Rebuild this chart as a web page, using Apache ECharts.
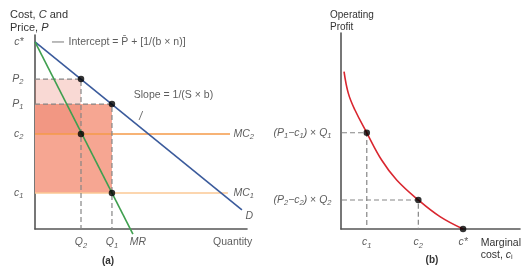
<!DOCTYPE html>
<html>
<head>
<meta charset="utf-8">
<script src="https://cdn.jsdelivr.net/npm/echarts@6/dist/echarts.min.js"></script>
<style>
  html, body { margin: 0; padding: 0; background: #fff; }
  #main { width: 522px; height: 269px; }
</style>
</head>
<body>
<div id="main"></div>
<script>
// panel (a): price vs quantity, arbitrary units 0-100 on both axes
const priceNames = ['c*', 'P2', 'P1', 'c2', 'c1'];
const priceValues = [96.4, 77.3, 64.4, 49.0, 18.6];
const qtyNames = ['Q2', 'Q1'];
const qtyValues = [21.7, 36.3];
const demandPts = [[0, 96.4], [97.6, 9.8]];
const mrPts = [[0, 96.4], [46.2, -2.6]];
const mcEnd = [92, 91]; // MC2, MC1 stop here

// panel (b): operating profit vs marginal cost
const costNames = ['c1', 'c2', 'c*'];
const costValues = [14.4, 43.2, 68.2];
const profitNames = ['(P1−c1) × Q1', '(P2−c2) × Q2'];
const profitValues = [49.1, 14.8];
const profitCurve = [[1.7, 80.3], [4.1, 69.2], [7.8, 60.7], [14.4, 49.1], [22.7, 35.2],
  [31.1, 25.0], [43.2, 14.8], [55.3, 6.3], [68.2, 0]];

const cStar = priceValues[0], P2 = priceValues[1], P1 = priceValues[2];
const c2 = priceValues[3], c1 = priceValues[4];
const Q2 = qtyValues[0], Q1 = qtyValues[1];

const FONT = 'Liberation Sans, Arial, DejaVu Sans, sans-serif';
const TXT = '#333';
const DASH = { color: '#858585', width: 1.2, type: [5, 3] };

// letters italic, trailing digits as small subscripts
function math(s) {
  return s.replace(/([A-Za-z]+)(\d?)/g, (m, a, d) => '{i|' + a + '}' + (d ? '{s|' + d + '}' : ''));
}
const RICH = {
  i: { fontStyle: 'italic', fontSize: 10.5, fontFamily: FONT, color: TXT, lineHeight: 14, verticalAlign: 'middle' },
  s: { fontStyle: 'italic', fontSize: 7.5, fontFamily: FONT, color: TXT, lineHeight: 14, verticalAlign: 'bottom' },
  n: { fontStyle: 'normal', fontSize: 10.5, fontFamily: FONT, color: TXT, lineHeight: 14, verticalAlign: 'middle' }
};

function lbl(x, y, text, pos, dist, extra) {
  return {
    value: [x, y],
    label: Object.assign({ show: true, formatter: text, position: pos, distance: dist }, extra || {})
  };
}

function labelSeries(g, items) {
  return {
    type: 'scatter', xAxisIndex: g, yAxisIndex: g, silent: true, z: 10,
    symbolSize: 1, itemStyle: { color: 'rgba(0,0,0,0)' },
    label: { fontFamily: FONT, fontSize: 10.5, color: TXT, fontStyle: 'italic', rich: RICH },
    data: items
  };
}

function seg(g, pts, style, extra) {
  return Object.assign({
    type: 'line', xAxisIndex: g, yAxisIndex: g, data: pts, symbol: 'none',
    silent: true, clip: false, lineStyle: style, z: 3
  }, extra || {});
}

function axisCommon(g, max) {
  return {
    type: 'value', gridIndex: g, min: 0, max: max,
    axisLine: { show: true, onZero: false, lineStyle: { color: '#555', width: 1.6 } },
    axisTick: { show: false }, axisLabel: { show: false }, splitLine: { show: false }
  };
}

// label items
const aLabels = [];
priceNames.forEach((n, i) => aLabels.push(lbl(0, priceValues[i], math(n), 'left', 11)));
qtyNames.forEach((n, i) => aLabels.push(lbl(qtyValues[i], 0, math(n), 'bottom', 6)));
aLabels.push(lbl(mrPts[1][0], 0, math('MR'), 'bottom', 6, { offset: [5, 0] }));
aLabels.push(lbl(93.2, 0, '{n|Quantity}', 'bottom', 6));
aLabels.push(lbl(mcEnd[0], c2, math('MC2'), 'right', 3));
aLabels.push(lbl(mcEnd[1], c1, math('MC1'), 'right', 5));
aLabels.push(lbl(demandPts[1][0], demandPts[1][1], math('D'), 'right', 3, { offset: [0, 6] }));
aLabels.push(lbl(13.7, cStar, 'Intercept = P̄ + [1/(b × n)]', 'right', 4,
  { fontStyle: 'normal', fontSize: 10.5 }));
aLabels.push(lbl(65.3, 69.1, 'Slope = 1/(S × b)', 'inside', 0, { fontStyle: 'normal' }));

const bLabels = [];
profitNames.forEach((n, i) => bLabels.push(lbl(0, profitValues[i],
  math(n).replace('−', '{n|−}').replace('×', '{n| × }').replace(') ', ')').replace(/\}\s+\{/g, '}{'),
  'left', 9)));
costNames.forEach((n, i) => bLabels.push(lbl(costValues[i], 0, math(n), 'bottom', 6)));

const chart = echarts.init(document.getElementById('main'));
chart.setOption({
  animation: false,
  backgroundColor: '#fff',
  grid: [
    { left: 35, top: 35, width: 212, height: 194, containLabel: false },
    { left: 341, top: 33, width: 179, height: 196, containLabel: false }
  ],
  xAxis: [axisCommon(0, 100), axisCommon(1, 100)],
  yAxis: [axisCommon(0, 100), axisCommon(1, 100)],
  graphic: [
    { type: 'text', left: 10, top: 8, style: {
      text: 'Cost, {i|C} and\nPrice, {i|P}', font: '11px ' + FONT, fill: TXT, lineHeight: 13,
      rich: { i: { fontStyle: 'italic', fontSize: 11, fontFamily: FONT, fill: TXT } } } },
    { type: 'text', left: 330, top: 9, style: {
      text: 'Operating\nProfit', font: '10px ' + FONT, fill: TXT, lineHeight: 12 } },
    { type: 'text', right: 1, top: 237, style: {
      text: 'Marginal\ncost, {i|c}ᵢ', font: '10.5px ' + FONT, fill: TXT, lineHeight: 12, align: 'right',
      rich: { i: { fontStyle: 'italic', fontSize: 10.5, fontFamily: FONT, fill: TXT } } } },
    { type: 'text', x: 108, y: 261, style: {
      text: '(a)', font: 'bold 10px ' + FONT, fill: TXT, align: 'center', verticalAlign: 'middle' } },
    { type: 'text', x: 432, y: 260, style: {
      text: '(b)', font: 'bold 10px ' + FONT, fill: TXT, align: 'center', verticalAlign: 'middle' } }
  ],
  series: [
    // profit rectangles
    {
      type: 'line', xAxisIndex: 0, yAxisIndex: 0, data: [[0, 0]], symbol: 'none',
      lineStyle: { width: 0 }, silent: true, z: 1,
      markArea: {
        silent: true, label: { show: false },
        data: [
          [{ coord: [0, P1], itemStyle: { color: '#f6a692', opacity: 1 } }, { coord: [Q1, c1] }],
          [{ coord: [0, P2], itemStyle: { color: 'rgba(232,110,90,0.26)', opacity: 1 } }, { coord: [Q2, c2] }]
        ]
      }
    },
    seg(0, [[0, c2], [mcEnd[0], c2]], { color: '#f59a48', width: 1.5 }),
    seg(0, [[0, c1], [mcEnd[1], c1]], { color: '#fbc894', width: 1.5 }),
    seg(0, [[0, P2], [Q2, P2], [Q2, 0]], DASH),
    seg(0, [[0, P1], [Q1, P1], [Q1, 0]], DASH),
    seg(0, demandPts, { color: '#3b5b9c', width: 1.6 }, { z: 4 }),
    seg(0, mrPts, { color: '#3f9f4f', width: 1.6 }, { z: 4 }),
    seg(0, [[8, cStar], [13.7, cStar]], { color: '#777', width: 1 }),
    seg(0, [[49.1, 56.2], [50.8, 60.8]], { color: '#777', width: 1 }),
    {
      type: 'scatter', xAxisIndex: 0, yAxisIndex: 0, silent: true, z: 6,
      symbolSize: 6.5, itemStyle: { color: '#000' },
      data: [[Q2, P2], [Q1, P1], [Q2, c2], [Q1, c1]]
    },
    labelSeries(0, aLabels),

    // panel (b)
    seg(1, [[-3.9, profitValues[0]], [costValues[0], profitValues[0]], [costValues[0], 0]], DASH),
    seg(1, [[-3.9, profitValues[1]], [costValues[1], profitValues[1]], [costValues[1], 0]], DASH),
    seg(1, profitCurve, { color: '#d9262f', width: 1.6 }, { smooth: 0.4, z: 4 }),
    {
      type: 'scatter', xAxisIndex: 1, yAxisIndex: 1, silent: true, z: 6,
      symbolSize: 6.5, itemStyle: { color: '#000' },
      data: [[costValues[0], profitValues[0]], [costValues[1], profitValues[1]], [costValues[2], 0]]
    },
    labelSeries(1, bLabels)
  ]
});
</script>
</body>
</html>
